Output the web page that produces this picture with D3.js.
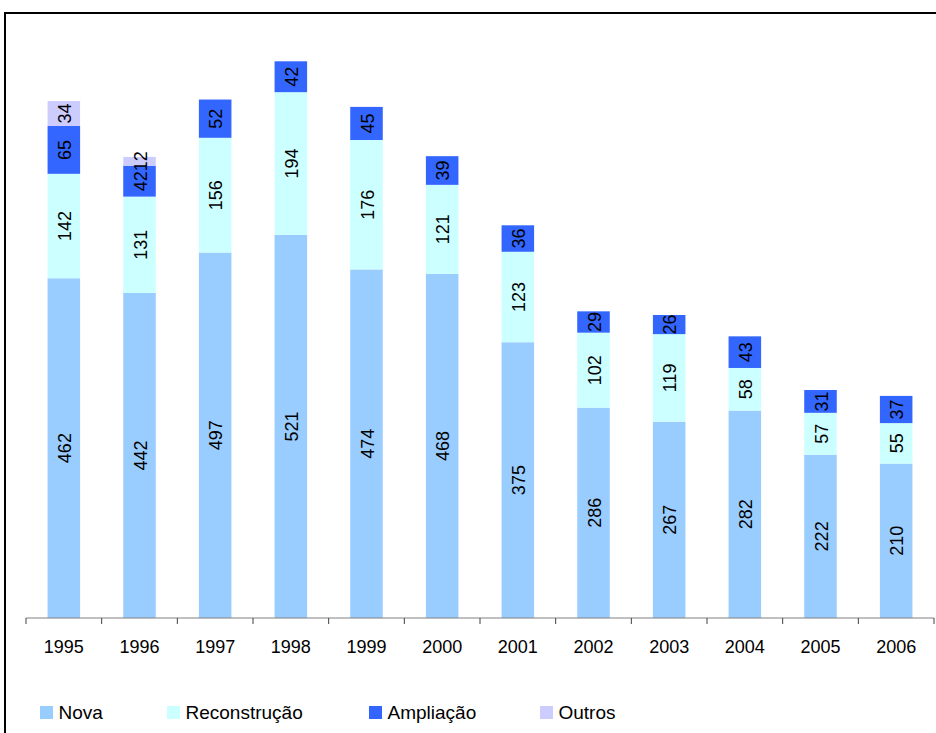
<!DOCTYPE html>
<html><head><meta charset="utf-8">
<script src="https://cdn.jsdelivr.net/npm/d3@7"></script>
<style>body{margin:0;background:#fff}svg{display:block}</style>
</head><body>
<script>
const years = ["1995","1996","1997","1998","1999","2000","2001","2002","2003","2004","2005","2006"];
const nova = [462,442,497,521,474,468,375,286,267,282,222,210];
const reconstrucao = [142,131,156,194,176,121,123,102,119,58,57,55];
const ampliacao = [65,42,52,42,45,39,36,29,26,43,31,37];
const outros = [34,12,0,0,0,0,0,0,0,0,0,0];
const seriesNames = ["Nova","Reconstrução","Ampliação","Outros"];
const colors = ["#99CCFF","#CCFFFF","#3366FF","#CCCCFF"];
const FONT="'Liberation Sans', Arial, sans-serif";

const W=936,H=733;
const svg=d3.select("body").append("svg").attr("width",W).attr("height",H);
// frame
svg.append("path").attr("d",`M5,${H} V13 H${W}`).attr("fill","none").attr("stroke","#000").attr("stroke-width",2);

const x=d3.scaleBand().domain(years).range([26,934]).paddingInner(0.57).paddingOuter(0.285);
const y=d3.scaleLinear().domain([0,800]).range([618,618-800*0.7354]);

const rows=years.map((yr,i)=>({year:yr,Nova:nova[i],"Reconstrução":reconstrucao[i],"Ampliação":ampliacao[i],Outros:outros[i]}));
const stack=d3.stack().keys(seriesNames)(rows);

const g=svg.append("g");
stack.forEach((s,si)=>{
  g.selectAll(null).data(s.filter(d=>d[1]-d[0]>0)).enter().append("rect")
   .attr("x",d=>x(d.data.year)).attr("width",x.bandwidth())
   .attr("y",d=>y(d[1])).attr("height",d=>y(d[0])-y(d[1]))
   .attr("fill",colors[si]);
});
stack.forEach((s,si)=>{
  g.selectAll(null).data(s.filter(d=>d[1]-d[0]>0)).enter().append("text")
   .attr("transform",d=>`translate(${x(d.data.year)+x.bandwidth()/2+1},${(y(d[0])+y(d[1]))/2}) rotate(-90)`)
   .attr("text-anchor","middle").attr("dominant-baseline","central")
   .attr("font-family",FONT).attr("font-size",18).attr("fill","#000")
   .text(d=>d[1]-d[0]);
});

// axis
svg.append("line").attr("x1",26).attr("x2",934).attr("y1",618).attr("y2",618).attr("stroke","#808080").attr("stroke-width",1);
const ticks=d3.range(years.length+1).map(i=>26+i*(908/years.length));
svg.selectAll(null).data(ticks).enter().append("line")
  .attr("x1",d=>d).attr("x2",d=>d).attr("y1",618).attr("y2",624).attr("stroke","#404040");
svg.selectAll(null).data(years).enter().append("text")
  .attr("x",d=>x(d)+x.bandwidth()/2).attr("y",653).attr("text-anchor","middle")
  .attr("font-family",FONT).attr("font-size",18).attr("fill","#000").text(d=>d);

// legend
const lx=[40,167,369,540];
const lg=svg.selectAll(null).data(seriesNames).enter().append("g").attr("transform",(d,i)=>`translate(${lx[i]},706)`);
lg.append("rect").attr("width",13).attr("height",13).attr("fill",(d,i)=>colors[i]);
lg.append("text").attr("x",18.5).attr("y",12.5).attr("font-family",FONT).attr("font-size",19).attr("fill","#000").text(d=>d);
</script>
</body></html>
